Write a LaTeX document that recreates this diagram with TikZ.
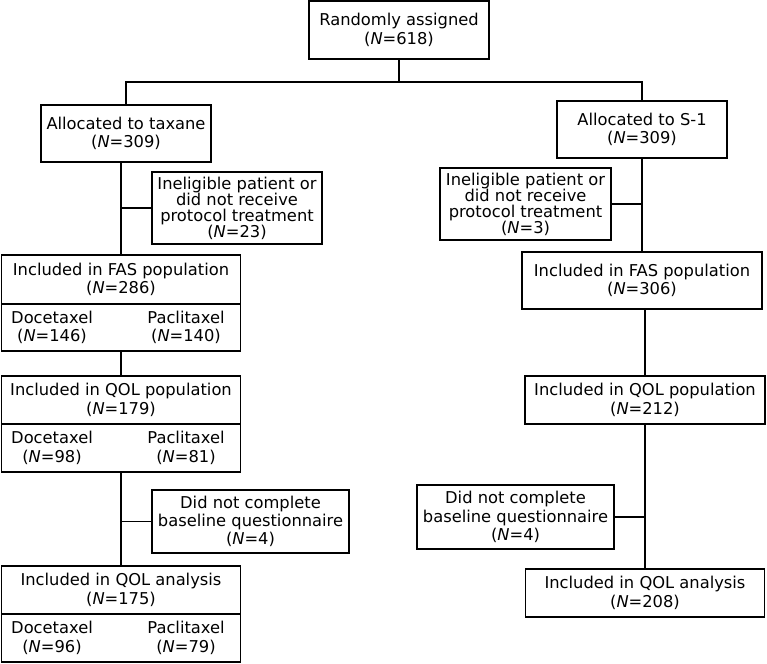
\documentclass[tikz,border=0pt]{standalone}
\usepackage{fontspec}
\setmainfont{DejaVu Sans}
\usetikzlibrary{positioning}
\newcommand{\boxfont}{\fontsize{16.3}{18.3}\selectfont}
\newcommand{\tightfont}{\fontsize{16.3}{16}\selectfont}
\tikzstyle{flowbox} = [
  rectangle, draw, line width=1.3pt, outer sep=0pt,
  inner sep=1pt, text centered, align=center, font=\boxfont
]
\tikzstyle{armtext} = [inner sep=0pt, align=center, font=\boxfont]
\tikzstyle{link} = [line width=1.3pt]

\begin{document}
\begin{tikzpicture}[x=1pt, y=-1pt]
\useasboundingbox (0,0) rectangle (767,663);

% Nodes
\node (rand) [flowbox, minimum width=180pt, minimum height=58pt] at (399,30) {Randomly assigned\\(\textit{N}=618)};
\node (taxane) [flowbox, minimum width=170pt, minimum height=57pt] at (126,133.5) {Allocated to taxane\\(\textit{N}=309)};
\node (s1) [flowbox, minimum width=170pt, minimum height=57pt] at (642,129.5) {Allocated to S-1\\(\textit{N}=309)};

\node (exclT) [flowbox, font=\tightfont, minimum width=170pt, minimum height=72pt] at (237,208) {Ineligible patient or\\did not receive\\protocol treatment\\(\textit{N}=23)};
\node (exclS) [flowbox, font=\tightfont, minimum width=171pt, minimum height=72pt] at (525.5,204) {Ineligible patient or\\did not receive\\protocol treatment\\(\textit{N}=3)};

\node (fasL) [flowbox, minimum width=239pt, minimum height=49pt] at (121,279.5) {Included in FAS population\\(\textit{N}=286)};
\node (fasLsub) [flowbox, minimum width=239pt, minimum height=47pt, below=0pt of fasL] {};
\node (fasLdoc) [armtext] at ([xshift=-69pt]fasLsub.center) {Docetaxel\\(\textit{N}=146)};
\node (fasLpac) [armtext] at ([xshift=65pt]fasLsub.center) {Paclitaxel\\(\textit{N}=140)};
\node (fasR) [flowbox, minimum width=240pt, minimum height=57pt] at (642,280.5) {Included in FAS population\\(\textit{N}=306)};

\node (qolL) [flowbox, minimum width=239pt, minimum height=48pt] at (121,400) {Included in QOL population\\(\textit{N}=179)};
\node (qolLsub) [flowbox, minimum width=239pt, minimum height=48pt, below=0pt of qolL] {};
\node (qolLdoc) [armtext] at ([xshift=-69pt]qolLsub.center) {Docetaxel\\(\textit{N}=98)};
\node (qolLpac) [armtext] at ([xshift=65pt]qolLsub.center) {Paclitaxel\\(\textit{N}=81)};
\node (qolR) [flowbox, minimum width=240pt, minimum height=48pt] at (645,400) {Included in QOL population\\(\textit{N}=212)};

\node (exclT2) [flowbox, minimum width=197pt, minimum height=63pt] at (250.5,521.5) {Did not complete\\baseline questionnaire\\(\textit{N}=4)};
\node (exclS2) [flowbox, minimum width=197pt, minimum height=64pt] at (515.5,517) {Did not complete\\baseline questionnaire\\(\textit{N}=4)};

\node (anaL) [flowbox, minimum width=239pt, minimum height=48pt] at (121,590) {Included in QOL analysis\\(\textit{N}=175)};
\node (anaLsub) [flowbox, minimum width=239pt, minimum height=48pt, below=0pt of anaL] {};
\node (anaLdoc) [armtext] at ([xshift=-69pt]anaLsub.center) {Docetaxel\\(\textit{N}=96)};
\node (anaLpac) [armtext] at ([xshift=65pt]anaLsub.center) {Paclitaxel\\(\textit{N}=79)};
\node (anaR) [flowbox, minimum width=239pt, minimum height=48pt] at (645,593) {Included in QOL analysis\\(\textit{N}=208)};

\coordinate (split) at (399,82);

% Connectors
\draw [link] (rand.south) -- (split);
\draw [link] (taxane.north) -- (taxane.north |- split) -- (s1.north |- split) -- (s1.north);

\draw [link] (taxane.south -| fasL.north) -- (fasL.north);
\draw [link] (exclT.west) -- (exclT.west -| fasL.north);
\draw [link] (fasLsub.south) -- (qolL.north);
\draw [link] (qolLsub.south) -- (anaL.north);
\draw [link] (exclT2.west) -- (exclT2.west -| anaL.north);

\draw [link] (s1.south) -- (fasR.north);
\draw [link] (exclS.east) -- (exclS.east -| s1.south);
\draw [link] (qolR.north |- fasR.south) -- (qolR.north);
\draw [link] (qolR.south) -- (anaR.north);
\draw [link] (exclS2.east) -- (exclS2.east -| anaR.north);

\end{tikzpicture}
\end{document}
